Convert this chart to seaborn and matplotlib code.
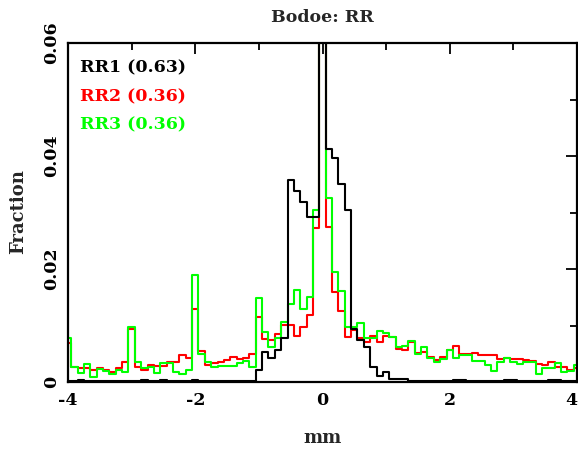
import numpy as np
import pandas as pd
import matplotlib
matplotlib.use("Agg")
import matplotlib.pyplot as plt
import seaborn as sns
from matplotlib.ticker import MultipleLocator

# ---- data (fraction per 0.1 mm bin, bin centres -4.0 ... 4.0) ----
bin_centers = np.round(np.arange(-40, 41) / 10.0, 1)

rr1 = [0.0002, 0.0001, 0.0003, 0.0001, 0.0001, 0.0001, 0.0002, 0.0001, 0.0001, 0.0001,
       0.0002, 0.0001, 0.0003, 0.0001, 0.0001, 0.0003, 0.0001, 0.0001, 0.0002, 0.0001,
       0.0003, 0.0001, 0.0002, 0.0002, 0.0001, 0.0002, 0.0001, 0.0002, 0.0001, 0.0001,
       0.0021, 0.0053, 0.0042, 0.0057, 0.0077, 0.0357, 0.0338, 0.0318, 0.0292, 0.0292,
       0.6300,
       0.0413, 0.0397, 0.0350, 0.0305, 0.0094, 0.0075, 0.0062, 0.0027, 0.0010, 0.0018,
       0.0006, 0.0005, 0.0006, 0.0002, 0.0001, 0.0002, 0.0001, 0.0001, 0.0002, 0.0001,
       0.0003, 0.0003, 0.0002, 0.0001, 0.0001, 0.0002, 0.0001, 0.0002, 0.0003, 0.0003,
       0.0001, 0.0001, 0.0002, 0.0001, 0.0002, 0.0003, 0.0003, 0.0001, 0.0001, 0.0002]

rr2 = [0.0069, 0.0026, 0.0024, 0.0025, 0.0022, 0.0024, 0.0022, 0.0018, 0.0025, 0.0035,
       0.0094, 0.0027, 0.0022, 0.0030, 0.0029, 0.0028, 0.0036, 0.0036, 0.0048, 0.0042,
       0.0129, 0.0055, 0.0030, 0.0034, 0.0036, 0.0039, 0.0045, 0.0040, 0.0043, 0.0049,
       0.0115, 0.0076, 0.0074, 0.0085, 0.0101, 0.0101, 0.0082, 0.0097, 0.0118, 0.0273,
       0.3600,
       0.0275, 0.0160, 0.0126, 0.0079, 0.0092, 0.0078, 0.0070, 0.0082, 0.0070, 0.0081,
       0.0079, 0.0059, 0.0056, 0.0070, 0.0051, 0.0053, 0.0044, 0.0039, 0.0044, 0.0056,
       0.0064, 0.0050, 0.0050, 0.0052, 0.0048, 0.0047, 0.0047, 0.0041, 0.0043, 0.0041,
       0.0041, 0.0039, 0.0037, 0.0031, 0.0030, 0.0035, 0.0027, 0.0027, 0.0021, 0.0024]

rr3 = [0.0077, 0.0027, 0.0016, 0.0032, 0.0008, 0.0023, 0.0020, 0.0014, 0.0022, 0.0018,
       0.0097, 0.0036, 0.0024, 0.0026, 0.0016, 0.0033, 0.0033, 0.0018, 0.0015, 0.0021,
       0.0189, 0.0050, 0.0036, 0.0027, 0.0029, 0.0028, 0.0028, 0.0034, 0.0037, 0.0027,
       0.0149, 0.0088, 0.0062, 0.0078, 0.0107, 0.0138, 0.0162, 0.0129, 0.0150, 0.0305,
       0.3600,
       0.0325, 0.0194, 0.0161, 0.0097, 0.0097, 0.0104, 0.0078, 0.0078, 0.0090, 0.0086,
       0.0080, 0.0062, 0.0064, 0.0072, 0.0050, 0.0062, 0.0042, 0.0036, 0.0040, 0.0057,
       0.0042, 0.0048, 0.0047, 0.0038, 0.0037, 0.0030, 0.0020, 0.0036, 0.0042, 0.0036,
       0.0031, 0.0035, 0.0035, 0.0014, 0.0024, 0.0025, 0.0034, 0.0018, 0.0019, 0.0030]

series_names = ["RR1", "RR2", "RR3"]
series_colors = ["#000000", "#ff0000", "#00ff00"]
legend_labels = ["RR1 (0.63)", "RR2 (0.36)", "RR3 (0.36)"]

x_ticks = [-4, -2, 0, 2, 4]
x_ticklabels = ["-4", "-2", "0", "2", "4"]
y_ticks = [0, 0.02, 0.04, 0.06]
y_ticklabels = ["0", "0.02", "0.04", "0.06"]

title = "Bodoe: RR"
xlabel = "mm"
ylabel = "Fraction"

# ---- figure ----
sns.set_theme(style="white")
plt.rcParams['font.family'] = ['DejaVu Serif', 'DejaVu Sans']
plt.rcParams['font.weight'] = 'bold'
plt.rcParams['axes.unicode_minus'] = False

df = pd.DataFrame({"center": np.tile(bin_centers, 3),
                   "fraction": np.concatenate([rr1, rr2, rr3]),
                   "series": np.repeat(series_names, len(bin_centers))})

fig = plt.figure(figsize=(5.78, 4.5), dpi=100)
ax = fig.add_axes([68 / 578, 68 / 450, 509 / 578, 339 / 450])

draw_order = ["RR2", "RR3", "RR1"]
for name in draw_order:
    i = series_names.index(name)
    sub = df[df.series == name]
    sns.lineplot(data=sub, x="center", y="fraction", estimator=None,
                 color=series_colors[i], drawstyle="steps-mid",
                 linewidth=1.5, ax=ax)

ax.set_xlim(-4, 4)
ax.set_ylim(0, 0.06)
ax.set_xticks(x_ticks)
ax.set_xticklabels(x_ticklabels, fontweight="bold")
ax.get_xticklabels()[-1].set_horizontalalignment("right")
ax.set_yticks(y_ticks)
ax.set_yticklabels(y_ticklabels, rotation=90, va="center", fontweight="bold")
ax.xaxis.set_minor_locator(MultipleLocator(1))
ax.yaxis.set_minor_locator(MultipleLocator(0.01))
ax.tick_params(which="both", direction="in", top=True, right=True,
               width=1.3, colors="black", labelsize=12.5)
ax.tick_params(which="major", length=8)
ax.tick_params(which="minor", length=5)
ax.tick_params(axis="x", pad=7)
ax.tick_params(axis="y", pad=6)
for s in ax.spines.values():
    s.set_linewidth(1.6)
    s.set_color("black")
ax.set_xlabel("")
ax.set_ylabel("")

for j, (lab, col) in enumerate(zip(legend_labels, series_colors)):
    ax.text(0.024, 0.926 - j * 0.084, lab, color=col, transform=ax.transAxes,
            fontsize=12.5, fontweight="bold", va="center", ha="left")

fig.text(322 / 578, 1 - 18 / 450, title, ha="center", va="center", fontsize=12.5, fontweight="bold")
fig.text(322 / 578, 1 - 438 / 450, xlabel, ha="center", va="center", fontsize=13, fontweight="bold")
fig.text(18 / 578, 1 - 212 / 450, ylabel, ha="center", va="center", rotation=90, fontsize=13, fontweight="bold")

fig.savefig("out.png", dpi=100)
